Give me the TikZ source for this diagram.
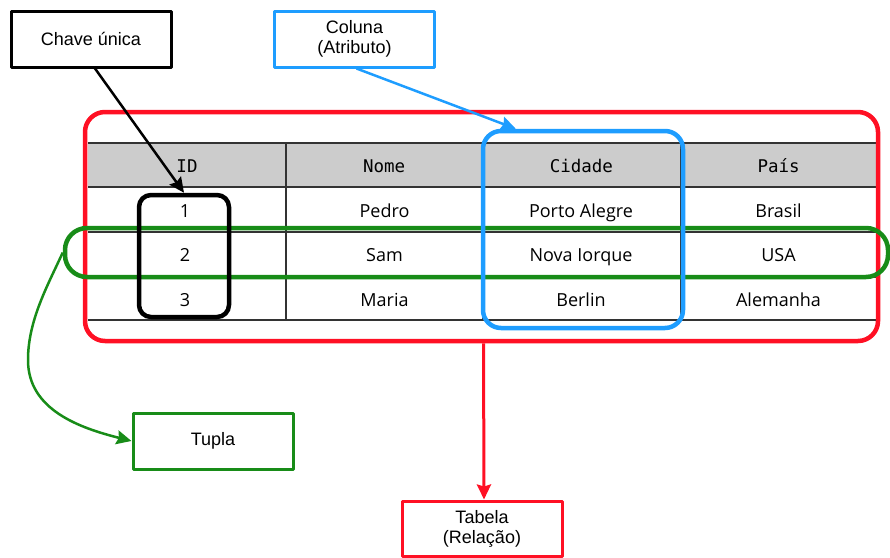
\documentclass[tikz,border=0pt]{standalone}
\usepackage{fontspec}
\setmainfont{Liberation Sans}
\newfontfamily\cellfont{Open Sans}
\newfontfamily\headfont{DejaVu Sans Mono}
\usetikzlibrary{arrows.meta,calc}
\definecolor{tabred}{RGB}{255,16,36}
\definecolor{colblue}{RGB}{30,157,255}
\definecolor{tupgreen}{RGB}{24,140,24}
\definecolor{headgray}{RGB}{204,204,204}
\definecolor{gridgray}{RGB}{51,51,51}
\begin{document}
\begin{tikzpicture}[x=1pt, y=-1pt, >={Stealth[length=15pt,width=14pt,inset=2pt]},
    line join=round,
    label/.style={draw=#1, line width=3pt, fill=white, minimum width=160, minimum height=56, align=center,
      font=\fontsize{18}{20}\selectfont},
    label/.default=black,
    cell/.style={anchor=base, font=\cellfont\fontsize{18}{20}\selectfont},
    head/.style={anchor=base, font=\headfont\fontsize{17.5}{20}\selectfont},
    frame/.style={draw, line width=4.5pt, minimum width=#1, inner sep=0pt}]
  \useasboundingbox (0,0) rectangle (890,557);
  \fill[headgray] (88,143) rectangle (876,187);
  \foreach \y in {143,187,232,277,320} \draw[gridgray, line width=1.2pt] (88,\y) -- (876,\y);
  \foreach \x in {286,483,681} \draw[gridgray, line width=1.2pt] (\x,143) -- (\x,320);
  \foreach \t [count=\i] in {ID,Nome,Cidade,País}
    \node[head] (h\i) at ({187+197.2*(\i-1)},172) {\t};
  \foreach \a/\b/\c/\d [count=\r] in {1/Pedro/Porto Alegre/Brasil, 2/Sam/Nova Iorque/USA, 3/Maria/Berlin/Alemanha}{
    \node[cell] (c\r a) at (185,{217+44.5*(\r-1)}) {\a};
    \node[cell] (c\r b) at (384.5,{217+44.5*(\r-1)}) {\b};
    \node[cell] (c\r c) at (581,{217+44.5*(\r-1)}) {\c};
    \node[cell] (c\r d) at (778.5,{217+44.5*(\r-1)}) {\d};
  }
  \node[frame=793, tabred, minimum height=229, rounded corners=20] (tabrect) at (481.5,226.5) {};
  \node[frame=823, tupgreen, minimum height=49, rounded corners=22] (tuprect) at (476.5,252.5) {};
  \node[frame=200, colblue, minimum height=197, rounded corners=18] (colrect) at (583,229.5) {};
  \node[frame=90, black, minimum height=122, rounded corners=12] (keyrect) at (184,256) {};
  \node[label] (chave) at (91,39) {Chave única};
  \node[label=colblue] (coluna) at (354.5,39) {Coluna\\(Atributo)};
  \node[label=tupgreen] (tupla) at (213,441) {Tupla};
  \node[label=tabred, minimum height=55] (tabela) at (482,528.5) {Tabela\\(Relação)};
  \draw[->, line width=2.5pt] ([xshift=4]chave.south) -- (keyrect.north);
  \draw[->, colblue, line width=2.5pt] ([xshift=2]coluna.south) -- ($(colrect.north west)+(35,0)$);
  \draw[->, tabred, line width=3pt] ([xshift=2]tabrect.south) -- ([xshift=2]tabela.north);
  \draw[->, tupgreen, line width=2.5pt] (tuprect.west) .. controls (48,285) and (28,320) .. (28,360)
    .. controls (28,410) and (80,428) .. (tupla.west);
\end{tikzpicture}
\end{document}
